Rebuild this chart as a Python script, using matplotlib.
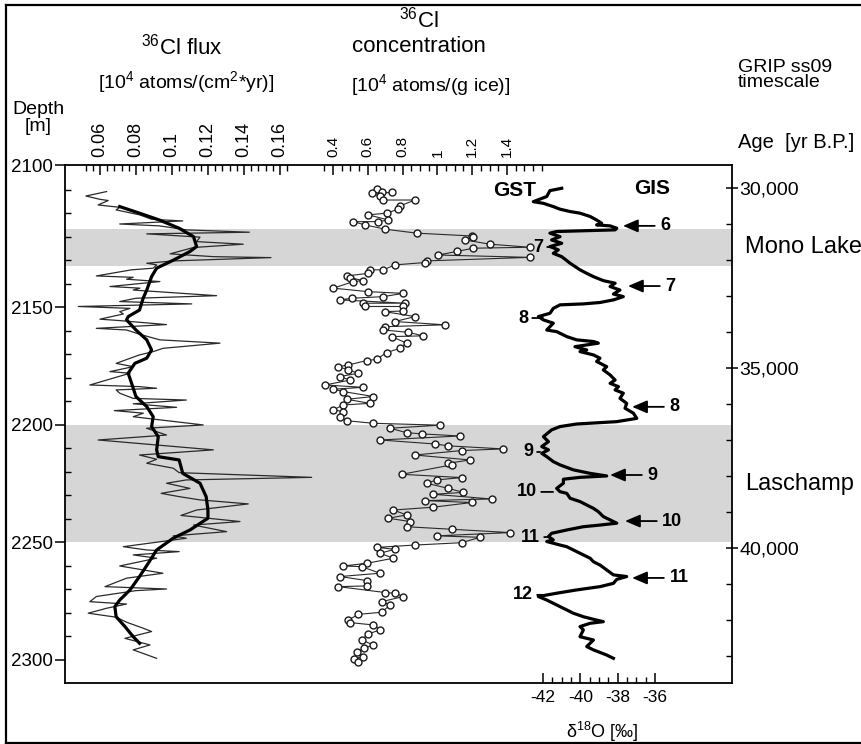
import numpy as np
import matplotlib.pyplot as plt
from matplotlib.ticker import FixedLocator, FixedFormatter
from matplotlib.transforms import blended_transform_factory
from matplotlib.lines import Line2D

plt.rcParams['font.family'] = ['Liberation Sans', 'DejaVu Sans']
plt.rcParams['mathtext.fontset'] = 'custom'
plt.rcParams['mathtext.rm'] = 'Liberation Sans'
plt.rcParams['mathtext.it'] = 'Liberation Sans:italic'
plt.rcParams['mathtext.bf'] = 'Liberation Sans:bold'
plt.rcParams['axes.unicode_minus'] = False

# ---- 36Cl flux, raw (thin) and smoothed (thick) ----
flux_depth = [2100.7, 2102.6, 2104.0, 2104.5, 2106.4, 2107.4, 2108.5, 2110.6, 2112.5, 2113.2,
              2114.5, 2115.3, 2117.0, 2118.0, 2118.7, 2120.1, 2122.0, 2123.1, 2124.5, 2127.2,
              2128.4, 2128.8, 2130.2, 2131.2, 2131.9, 2133.3, 2134.0, 2136.6, 2137.2, 2138.0,
              2139.0, 2141.1, 2141.8, 2142.6, 2145.0, 2146.1, 2147.5, 2148.5, 2149.6, 2150.4,
              2151.8, 2152.8, 2155.0, 2155.6, 2157.3, 2158.9, 2159.6, 2161.4, 2163.8, 2165.2,
              2167.4, 2168.8, 2170.2, 2173.8, 2175.2, 2177.3, 2178.0, 2183.0, 2183.7, 2184.4,
              2185.1, 2186.5, 2188.7, 2189.4, 2191.0, 2192.5, 2193.9, 2195.0, 2196.5, 2200.0,
              2201.4, 2204.3, 2206.4, 2210.6, 2212.8, 2214.6, 2216.3, 2218.4, 2220.3, 2222.3,
              2223.4, 2224.8, 2227.0, 2229.1, 2230.5, 2231.9, 2233.6, 2236.2, 2238.5, 2241.1,
              2242.6, 2245.4, 2247.2, 2248.2, 2251.8, 2253.2, 2253.9, 2255.3, 2256.7, 2260.0,
              2263.1, 2265.2, 2268.8, 2269.8, 2270.5, 2273.0, 2275.2, 2276.2, 2278.0, 2280.1,
              2281.8, 2284.0, 2286.5, 2287.9, 2290.8, 2293.6, 2295.7, 2299.3]
flux_raw = [0.0637, 0.0522, 0.060, 0.0646, 0.059, 0.071, 0.069, 0.082, 0.0887, 0.106,
            0.071, 0.093, 0.108, 0.143, 0.086, 0.1156, 0.1137, 0.1396, 0.112, 0.099,
            0.123, 0.155, 0.101, 0.086, 0.0915, 0.0896, 0.0776, 0.058, 0.0785, 0.0748,
            0.0933, 0.0656, 0.0822, 0.0785, 0.1248, 0.080, 0.071, 0.111, 0.048, 0.0767,
            0.071, 0.073, 0.060, 0.071, 0.097, 0.058, 0.0748, 0.082, 0.0933, 0.1267,
            0.095, 0.0896, 0.082, 0.069, 0.0785, 0.0656, 0.0767, 0.0544, 0.082, 0.0915,
            0.069, 0.071, 0.0785, 0.108, 0.0785, 0.1026, 0.068, 0.0841, 0.0785, 0.1174,
            0.0859, 0.097, 0.059, 0.123, 0.082, 0.0915, 0.086, 0.1007, 0.104, 0.1776,
            0.108, 0.097, 0.110, 0.094, 0.104, 0.1156, 0.1424, 0.1137, 0.105, 0.1378,
            0.112, 0.1304, 0.1007, 0.108, 0.073, 0.086, 0.104, 0.0785, 0.0915, 0.071,
            0.095, 0.0748, 0.0628, 0.097, 0.080, 0.058, 0.0544, 0.0748, 0.0637, 0.0535,
            0.069, 0.075, 0.0841, 0.0887, 0.0739, 0.0878, 0.0785, 0.0915]

smooth_depth = [2107.1, 2109.9, 2112.8, 2116.3, 2119.9, 2124.1, 2126.2, 2129.8, 2133.3, 2136.9,
                2142.6, 2146.1, 2151.1, 2153.9, 2155.3, 2159.6, 2163.8, 2168.1, 2171.6, 2173.8,
                2178.0, 2182.3, 2187.9, 2192.2, 2196.5, 2200.7, 2205.0, 2210.6, 2213.5, 2214.9,
                2220.6, 2224.8, 2230.5, 2236.2, 2239.7, 2244.7, 2248.2, 2253.2, 2258.9, 2264.5,
                2270.2, 2274.5, 2277.3, 2281.6, 2285.8, 2290.1, 2292.9]
smooth_flux = [0.071, 0.082, 0.093, 0.104, 0.112, 0.1137, 0.110, 0.101, 0.0915, 0.0887,
               0.086, 0.084, 0.082, 0.0757, 0.0748, 0.080, 0.086, 0.0887, 0.086, 0.0794,
               0.0757, 0.0776, 0.080, 0.086, 0.0896, 0.0887, 0.0924, 0.0915, 0.0924, 0.104,
               0.106, 0.1156, 0.119, 0.120, 0.120, 0.110, 0.1007, 0.0915, 0.0868, 0.082,
               0.0767, 0.071, 0.0683, 0.069, 0.0739, 0.0785, 0.082]

# ---- 36Cl concentration ----
conc_depth = [2099.5, 2101.1, 2101.1, 2101.4, 2102.8, 2104.3, 2104.3, 2106.8, 2108.2, 2109.9,
              2110.6, 2112.8, 2113.5, 2113.5, 2114.9, 2116.7, 2118.4, 2119.6, 2120.1, 2121.3,
              2123.1, 2124.4, 2124.8, 2126.2, 2127.7, 2128.7, 2130.2, 2130.9, 2131.9, 2134.0,
              2134.0, 2135.5, 2136.6, 2137.3, 2138.6, 2139.0, 2141.8, 2143.3, 2144.0, 2145.4,
              2146.1, 2146.8, 2148.2, 2148.2, 2149.6, 2149.6, 2151.5, 2151.8, 2153.9, 2156.0,
              2157.4, 2158.2, 2159.6, 2160.6, 2162.1, 2162.4, 2165.2, 2167.4, 2169.2, 2172.1,
              2172.6, 2174.5, 2175.2, 2176.6, 2178.0, 2179.4, 2180.9, 2183.0, 2184.0, 2184.8,
              2185.8, 2187.9, 2189.1, 2190.8, 2191.5, 2193.6, 2194.3, 2196.5, 2198.2, 2199.3,
              2200.1, 2201.4, 2203.3, 2203.8, 2204.7, 2206.4, 2208.1, 2208.9, 2210.2, 2210.9,
              2212.8, 2214.9, 2216.3, 2217.0, 2221.0, 2222.4, 2223.4, 2224.8, 2227.0, 2228.7,
              2229.5, 2231.5, 2232.2, 2233.0, 2235.0, 2236.2, 2238.3, 2239.7, 2241.1, 2243.3,
              2244.4, 2245.8, 2247.2, 2247.8, 2250.1, 2251.1, 2252.1, 2252.9, 2254.6, 2256.7,
              2258.9, 2260.0, 2260.3, 2263.1, 2264.5, 2266.2, 2268.5, 2268.8, 2271.3, 2271.6,
              2273.0, 2275.2, 2276.6, 2279.7, 2280.6, 2283.0, 2284.1, 2285.1, 2287.2, 2289.0,
              2291.5, 2293.6, 2295.0, 2296.5, 2298.6, 2299.5, 2300.7]
conc_val = [0.651, 0.680, 0.737, 0.622, 0.670, 0.689, 0.871, 0.785, 0.775, 0.708,
            0.603, 0.718, 0.661, 0.517, 0.584, 0.699, 0.881, 1.197, 1.207, 1.159,
            1.302, 1.532, 1.207, 1.111, 1.005, 1.532, 0.938, 0.929, 0.756, 0.689,
            0.613, 0.603, 0.479, 0.498, 0.574, 0.517, 0.402, 0.603, 0.804, 0.689,
            0.507, 0.440, 0.814, 0.574, 0.584, 0.804, 0.804, 0.699, 0.871, 0.756,
            1.044, 0.699, 0.689, 0.833, 0.919, 0.737, 0.823, 0.785, 0.708, 0.651,
            0.593, 0.488, 0.431, 0.488, 0.546, 0.440, 0.498, 0.354, 0.574, 0.402,
            0.459, 0.632, 0.479, 0.613, 0.459, 0.402, 0.459, 0.440, 0.479, 0.632,
            1.015, 0.728, 0.823, 0.910, 1.130, 0.670, 0.986, 1.063, 1.379, 1.139,
            0.871, 1.187, 1.063, 1.082, 0.795, 1.139, 0.996, 0.938, 1.063, 1.149,
            0.977, 1.312, 0.929, 1.197, 0.977, 0.747, 0.823, 0.718, 0.843, 0.823,
            1.082, 1.417, 0.996, 1.245, 1.139, 0.871, 0.651, 0.756, 0.670, 0.747,
            0.593, 0.459, 0.565, 0.670, 0.440, 0.593, 0.593, 0.431, 0.699, 0.756,
            0.804, 0.680, 0.728, 0.680, 0.546, 0.488, 0.498, 0.632, 0.670, 0.600,
            0.565, 0.632, 0.580, 0.536, 0.574, 0.520, 0.546]

# ---- GRIP delta18O ----
gis_depth = [2099.3, 2100.3, 2102.8, 2105.0, 2105.7, 2107.1, 2108.2, 2109.2, 2109.9, 2111.3,
             2112.8, 2114.2, 2114.9, 2115.3, 2116.3, 2117.0, 2117.7, 2118.4, 2119.9, 2121.3,
             2122.7, 2124.1, 2125.5, 2127.0, 2128.4, 2131.2, 2134.0, 2135.5, 2136.9, 2138.6,
             2139.7, 2141.1, 2142.6, 2144.3, 2145.4, 2146.8, 2147.9, 2148.5, 2148.9, 2150.4,
             2152.5, 2153.9, 2155.3, 2156.7, 2159.6, 2160.3, 2162.4, 2163.8, 2164.5, 2165.2,
             2166.7, 2168.1, 2168.8, 2170.2, 2171.6, 2173.0, 2175.2, 2176.6, 2178.7, 2180.9,
             2182.3, 2183.7, 2185.1, 2186.5, 2188.7, 2190.8, 2192.9, 2195.0, 2197.2, 2198.6,
             2199.6, 2200.7, 2202.1, 2205.0, 2207.1, 2209.2, 2210.6, 2212.1, 2213.5, 2215.6,
             2217.0, 2219.1, 2220.6, 2221.7, 2222.3, 2223.1, 2224.8, 2227.0, 2228.4, 2229.1,
             2231.2, 2232.6, 2235.5, 2236.9, 2239.0, 2240.4, 2241.8, 2242.6, 2243.3, 2244.7,
             2246.1, 2247.5, 2248.9, 2249.6, 2251.1, 2251.8, 2253.9, 2255.3, 2256.7, 2258.2,
             2259.6, 2261.7, 2263.8, 2264.5, 2265.7, 2267.4, 2268.8, 2270.2, 2271.6, 2273.0,
             2274.5, 2276.6, 2278.0, 2280.1, 2281.6, 2282.7, 2283.7, 2284.4, 2285.8, 2287.2,
             2290.1, 2291.5, 2294.3, 2295.7, 2297.9, 2299.3]
gis_d18o = [-41.0, -41.63, -41.80, -42.52, -41.98, -41.45, -41.09, -40.55, -40.02, -39.48,
            -39.13, -38.86, -39.13, -38.41, -38.05, -38.14, -41.27, -41.63, -41.09, -41.54,
            -41.0, -41.63, -41.18, -41.45, -41.0, -40.55, -40.02, -39.66, -39.30, -38.77,
            -38.14, -38.41, -37.88, -38.23, -37.70, -38.23, -38.95, -39.84, -41.09, -41.45,
            -41.63, -42.25, -41.98, -41.45, -41.80, -41.27, -40.73, -40.20, -39.30, -39.04,
            -40.29, -39.66, -40.02, -39.30, -38.95, -39.13, -38.59, -38.77, -38.41, -38.14,
            -38.41, -37.96, -38.14, -37.70, -37.88, -37.52, -37.61, -37.16, -36.98, -38.05,
            -40.20, -41.09, -41.54, -41.98, -41.71, -42.07, -41.71, -42.07, -41.80, -41.45,
            -41.09, -40.38, -39.48, -38.59, -40.02, -40.91, -40.91, -41.27, -41.09, -40.73,
            -40.55, -40.02, -39.30, -39.04, -38.77, -38.41, -38.05, -38.95, -39.84, -40.73,
            -41.54, -41.71, -41.45, -41.80, -41.09, -40.73, -40.20, -39.84, -39.48, -39.30,
            -38.95, -38.59, -38.23, -37.52, -38.05, -38.23, -38.95, -40.20, -41.27, -42.25,
            -41.80, -41.27, -40.91, -40.38, -39.84, -39.30, -38.77, -39.48, -40.02, -39.84,
            -40.02, -39.30, -39.66, -39.30, -38.59, -38.23]

# interstadials (GIS, arrows) and stadials (GST) numbers
gis_num = ['6', '7', '8', '9', '10', '11']
gis_num_depth = [2115.3, 2140.9, 2192.3, 2221.3, 2240.9, 2265.1]
gis_arrow_tip = [-37.72, -37.45, -37.23, -38.41, -37.61, -37.23]
gst_num = ['7', '8', '9', '10', '11', '12']
gst_num_depth = [2124.3, 2154.5, 2211.5, 2228.5, 2247.7, 2272.3]
gst_text_x = [-42.0, -42.8, -42.54, -42.32, -42.16, -42.54]
gst_line_end = [-41.63, -42.0, -42.16, -41.46, -41.63, -42.05]

# geomagnetic events
band_names = ['Mono Lake', 'Laschamp']
band_top = [2116.6, 2200]
band_bottom = [2132.3, 2250]

# axis ticks
depth_labels = ['2100', '2150', '2200', '2250', '2300']
flux_ticks = [0.06, 0.08, 0.1, 0.12, 0.14, 0.16]
flux_labels = ['0.06', '0.08', '0.1', '0.12', '0.14', '0.16']
conc_ticks = [0.4, 0.6, 0.8, 1.0, 1.2, 1.4]
conc_labels = ['0.4', '0.6', '0.8', '1', '1.2', '1.4']
d18o_ticks = [-42, -40, -38, -36]
d18o_labels = ['-42', '-40', '-38', '-36']
age_ticks = [30000, 35000, 40000]
age_labels = ['30,000', '35,000', '40,000']

# axis ranges (so that all scales line up in one frame)
depth_lim = (2309.8, 2089.4)
age_lim = (43750, 29361)
flux_lim = (0.0406, 0.4111)
conc_lim = (-1.140, 2.693)
d18o_lim = (-67.6, -31.88)

W, H = 862, 744
fig = plt.figure(figsize=(W / 100, H / 100), dpi=100)


def fx(px):
    return px / W


def fy(py):
    return 1 - py / H


ax = fig.add_axes([fx(65), fy(683), fx(732) - fx(65), fy(165) - fy(683)])
ax.set_xlim(*d18o_lim)
ax.set_ylim(*depth_lim)
for s in ax.spines.values():
    s.set_linewidth(1.3)

axf = ax.twiny()
axf.set_xlim(*flux_lim)
axc = ax.twiny()
axc.set_xlim(*conc_lim)
axa = ax.twinx()
axa.set_ylim(*age_lim)
for a in (axf, axc, axa):
    for s in a.spines.values():
        s.set_visible(False)

# shaded bands + labels
trans = blended_transform_factory(ax.transAxes, ax.transData)
for name, t, b in zip(band_names, band_top, band_bottom):
    ax.axhspan(t, b, color='#d6d6d6', lw=0, zorder=0)
    ax.text(1.0195, (t + b) / 2, name, transform=trans, ha='left', va='center',
            fontsize=17, clip_on=False)

# curves
axf.plot(flux_raw, flux_depth, color='#2a2a2a', lw=0.9)
axf.plot(smooth_flux, smooth_depth, color='black', lw=2.3)
axc.plot(conc_val, conc_depth, '-o', color='#2a2a2a', lw=0.8, ms=5,
         mfc='white', mec='#1a1a1a', mew=1.0)
ax.plot(gis_d18o, gis_depth, color='black', lw=2.3)

for lbl, d, tip in zip(gis_num, gis_num_depth, gis_arrow_tip):
    ax.annotate(lbl, xy=(tip, d), xytext=(tip + 2.0, d), ha='left', va='center',
                fontsize=13, fontweight='bold',
                arrowprops=dict(arrowstyle='-|>,head_length=0.7,head_width=0.3',
                                color='black', lw=1.3, shrinkA=2, shrinkB=0))
for lbl, d, tx, end in zip(gst_num, gst_num_depth, gst_text_x, gst_line_end):
    ax.annotate(lbl, xy=(end, d), xytext=(tx, d), ha='right', va='center',
                fontsize=13, fontweight='bold',
                arrowprops=dict(arrowstyle='-', color='black', lw=1.3,
                                shrinkA=1, shrinkB=0))

# depth axis (left)
ax.yaxis.set_major_locator(FixedLocator([depth_lim[1], 2150, 2200, 2250, 2300]))
ax.yaxis.set_major_formatter(FixedFormatter(depth_labels))
ax.yaxis.set_minor_locator(FixedLocator(np.arange(2100, 2301, 10)))
ax.tick_params(axis='y', which='major', direction='out', length=7, width=1.1,
               labelsize=13.5, pad=2)
ax.tick_params(axis='y', which='minor', direction='in', length=4, width=1)

# d18O axis (bottom)
ax.xaxis.set_major_locator(FixedLocator(d18o_ticks))
ax.xaxis.set_major_formatter(FixedFormatter(d18o_labels))
ax.xaxis.set_minor_locator(FixedLocator(np.arange(-42, -35.9, 0.5)))
ax.tick_params(axis='x', which='major', direction='in', length=7, width=1.1,
               labelsize=12.5, pad=5)
ax.tick_params(axis='x', which='minor', direction='in', length=4.5, width=1)

# flux axis (top)
axf.xaxis.set_major_locator(FixedLocator(flux_ticks))
axf.xaxis.set_major_formatter(FixedFormatter(flux_labels))
axf.xaxis.set_minor_locator(FixedLocator(np.arange(0.052, 0.1645, 0.004)))
axf.tick_params(axis='x', which='major', direction='in', length=7, width=1.1,
                labelsize=13, labelrotation=90, pad=6)
axf.tick_params(axis='x', which='minor', direction='in', length=4, width=1)

# concentration axis (top)
axc.xaxis.set_major_locator(FixedLocator(conc_ticks))
axc.xaxis.set_major_formatter(FixedFormatter(conc_labels))
axc.xaxis.set_minor_locator(FixedLocator(np.arange(0.35, 1.601, 0.05)))
axc.tick_params(axis='x', which='major', direction='in', length=7, width=1.1,
                labelsize=11, labelrotation=90, pad=6)
axc.tick_params(axis='x', which='minor', direction='in', length=4, width=1)

# age axis (right)
axa.yaxis.set_major_locator(FixedLocator(age_ticks))
axa.yaxis.set_major_formatter(FixedFormatter(age_labels))
axa.yaxis.set_minor_locator(FixedLocator(np.arange(30000, 43001, 1000)))
axa.tick_params(axis='y', which='major', direction='inout', length=8, width=1.1,
                labelsize=14, pad=1.5)
axa.tick_params(axis='y', which='minor', direction='in', length=4.5, width=1)

# headings
fig.text(fx(182), fy(47), r'$^{36}$Cl flux', ha='center', va='center', fontsize=16)
fig.text(fx(186), fy(82), r'[10$^{4}$ atoms/(cm$^{2}$*yr)]', ha='center', va='center',
         fontsize=14)
fig.text(fx(419), fy(20), r'$^{36}$Cl', ha='center', va='center', fontsize=16)
fig.text(fx(419), fy(47), 'concentration', ha='center', va='center', fontsize=16)
fig.text(fx(431), fy(85), r'[10$^{4}$ atoms/(g ice)]', ha='center', va='center',
         fontsize=14)
fig.text(fx(738), fy(75), 'GRIP ss09\ntimescale', ha='left', va='center',
         fontsize=14, linespacing=0.85)
fig.text(fx(738), fy(143), 'Age  [yr B.P.]', ha='left', va='center', fontsize=14.5)
fig.text(fx(38), fy(118), 'Depth\n[m]', ha='center', va='center', fontsize=14,
         linespacing=1.0)
fig.text(fx(515), fy(190), 'GST', ha='center', va='center', fontsize=15,
         fontweight='bold')
fig.text(fx(652), fy(188), 'GIS', ha='center', va='center', fontsize=15,
         fontweight='bold')
fig.text(fx(602), fy(732), r'δ$^{18}$O [‰]', ha='center', va='center', fontsize=13)

# outer frame of the picture
for xs, ys in [([6, 6], [5, 743]), ([6, W], [5, 5]), ([6, W], [743, 743])]:
    fig.add_artist(Line2D([fx(x) for x in xs], [fy(y) for y in ys], color='black',
                          lw=1.6, transform=fig.transFigure))

fig.savefig('out.png', dpi=100)
